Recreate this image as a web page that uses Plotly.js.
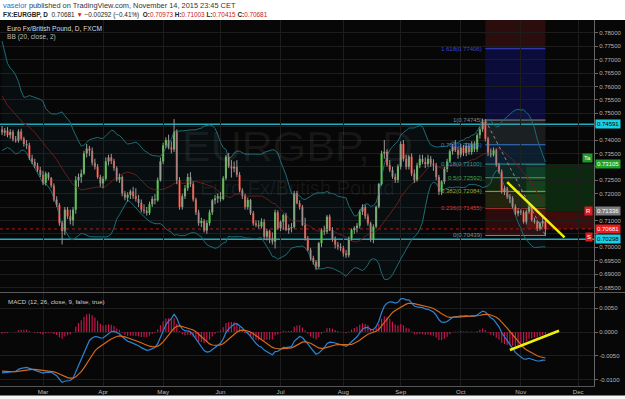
<!DOCTYPE html>
<html><head><meta charset="utf-8">
<script src="https://cdn.plot.ly/plotly-3.0.1.min.js"></script>
<style>html,body{margin:0;padding:0;background:#fff;overflow:hidden}#chart{width:625px;height:399px}</style>
</head><body><div id="chart"></div>
<script>
// ---- data (prices in pips, 1 pip = 0.0001) ----
const PIP = 0.0001;
const firstBarDate = '2015-02-09';
const openPips = [
7440,7428,7435,7418,7430,7402,7398,7432,7405,7385,7380,7332,7318,7305,7288,
7270,7240,7275,7258,7230,7178,7158,7090,7060,7140,
7115,7100,7140,7250,7262,7275,7350,7368,7360,7315,
7300,7262,7238,7255,7320,7335,7322,7295,7252,7262,
7200,7185,7195,7208,7190,7180,7165,7140,7135,7128,
7160,7180,7175,7250,7320,7380,7400,7372,7365,7430,
7250,7150,7190,7220,7262,7235,7178,7130,7090,7098,
7062,7090,7130,7175,7182,7190,7180,7257,7338,7301,
7294,7300,7270,7212,7192,7150,7176,7127,7089,7083,
7078,7095,7039,7060,7033,7021,7130,7071,7095,7120,
7064,7071,7075,7201,7164,7151,7083,7033,6990,6959,
6945,6927,7015,7064,7058,7114,7064,7027,7010,7002,
6996,6977,6970,7033,7064,7071,7080,7133,7150,7115,
7089,7027,7077,7151,7235,7350,7356,7307,7288,7263,
7251,7301,7385,7330,7300,7338,7275,7250,7305,7330,
7318,7310,7330,7312,7305,7262,7207,7245,7292,7320,
7358,7375,7362,7345,7372,7352,7378,7355,7385,7365,
7418,7440,7468,7405,7350,7345,7362,7307,7282,7207,
7219,7189,7182,7151,7126,7135,7130,7095,7133,7151,
7101,7095,7070,7089,7097.3];
const highPips = [
7452,7445,7448,7440,7438,7415,7440,7442,7412,7400,7390,7345,7330,7315,7300,
7285,7282,7280,7262,7238,7190,7165,7098,7150,7150,
7140,7150,7265,7275,7290,7360,7385,7378,7372,7330,
7310,7270,7265,7335,7345,7348,7330,7302,7275,7268,
7210,7205,7215,7225,7220,7195,7178,7160,7150,7170,
7190,7198,7260,7335,7390,7410,7420,7395,7478,7440,
7262,7200,7232,7275,7280,7245,7185,7140,7110,7105,
7100,7140,7180,7195,7200,7205,7265,7345,7352,7325,
7320,7325,7280,7220,7200,7185,7180,7135,7100,7100,
7108,7105,7068,7065,7055,7140,7138,7100,7125,7128,
7085,7090,7210,7210,7175,7158,7110,7042,6998,6968,
6952,7020,7070,7080,7120,7122,7075,7040,7020,7015,
7005,6990,7040,7070,7078,7090,7140,7160,7158,7125,
7095,7085,7155,7240,7360,7400,7365,7325,7300,7275,
7310,7395,7400,7345,7345,7350,7290,7315,7345,7345,
7335,7345,7340,7328,7315,7270,7250,7300,7330,7365,
7385,7400,7375,7385,7382,7390,7388,7395,7395,7425,
7448,7480,7478,7412,7368,7372,7368,7315,7290,7228,
7225,7198,7190,7160,7145,7142,7138,7140,7162,7158,
7110,7102,7095,7112,7100.3];
const lowPips = [
7418,7415,7410,7405,7395,7390,7390,7398,7375,7366,7325,7310,7295,7280,7262,
7232,7230,7250,7222,7170,7150,7080,7010,7045,7105,
7085,7080,7125,7225,7240,7270,7335,7340,7305,7290,
7255,7225,7220,7248,7305,7310,7285,7245,7240,7190,
7175,7170,7180,7180,7170,7150,7130,7125,7118,7120,
7150,7160,7170,7245,7310,7370,7365,7350,7355,7235,
7140,7140,7180,7210,7225,7170,7120,7080,7075,7055,
7050,7080,7120,7160,7165,7170,7175,7250,7295,7260,
7280,7262,7205,7180,7140,7140,7120,7080,7075,7070,
7070,7030,7025,7015,7010,6995,7065,7060,7065,7060,
7050,7055,7070,7160,7140,7078,7025,6985,6950,6935,
6915,6920,7000,7045,7050,7060,7020,6995,6990,6985,
6965,6960,6962,7025,7050,7055,7070,7120,7105,7080,
7020,7015,7070,7145,7230,7330,7300,7280,7255,7240,
7240,7290,7320,7290,7290,7265,7240,7245,7295,7310,
7295,7300,7300,7285,7250,7195,7195,7235,7280,7315,
7345,7355,7330,7335,7340,7340,7345,7345,7355,7355,
7405,7430,7395,7340,7335,7338,7300,7275,7200,7195,
7180,7165,7145,7120,7115,7120,7088,7085,7125,7095,
7088,7060,7062,7075,7041.5];
const closePips = [
7428,7435,7418,7430,7402,7398,7432,7405,7385,7380,7332,7318,7305,7288,7270,
7240,7275,7258,7230,7178,7158,7090,7060,7140,7115,
7100,7140,7250,7262,7275,7350,7368,7360,7315,7300,
7262,7238,7255,7320,7335,7322,7295,7252,7262,7200,
7185,7195,7208,7190,7180,7165,7140,7135,7128,7160,
7180,7175,7250,7320,7380,7400,7372,7365,7430,7250,
7150,7190,7220,7262,7235,7178,7130,7090,7098,7062,
7090,7130,7175,7182,7190,7180,7257,7338,7301,7294,
7300,7270,7212,7192,7150,7176,7127,7089,7083,7078,
7095,7039,7060,7033,7021,7130,7071,7095,7120,7064,
7071,7075,7201,7164,7151,7083,7033,6990,6959,6945,
6927,7015,7064,7058,7114,7064,7027,7010,7002,6996,
6977,6970,7033,7064,7071,7080,7133,7150,7115,7089,
7027,7077,7151,7235,7350,7356,7307,7288,7263,7251,
7301,7385,7330,7300,7338,7275,7250,7305,7330,7318,
7310,7330,7312,7305,7262,7207,7245,7292,7320,7358,
7375,7362,7345,7372,7352,7378,7355,7385,7365,7418,
7440,7468,7405,7350,7345,7362,7307,7282,7207,7219,
7189,7182,7151,7126,7135,7130,7095,7133,7151,7101,
7095,7070,7089,7097.3,7068.1];
// closes before the visible window (Dec 2014 - Feb 6 2015), only used to warm up BB / MACD
const warmupClosePips = [
7940,7870,7860,7900,7915,7900,7920,7915,7910,7900,7900,7905,7880,7860,7860,7850,7855,7855,7860,7845,7835,7830,7760,
7765,7805,7840,7820,7840,7790,7800,7770,7800,7770,7660,7620,7630,7640,7660,7605,7470,7480,7530,7520,7520,7490,
7520,7560,7480,7470,7445];
const monthNames = ['Jan','Feb','Mar','Apr','May','Jun','Jul','Aug','Sep','Oct','Nov','Dec'];
const hLevels = [0.74591, 0.70298];
const fibLevels = [0, 0.236, 0.382, 0.5, 0.618, 0.786, 1, 1.618, 2.618];
const fibLow = 0.70439, fibHigh = 0.74745;
const fibDates = ['2015-10-14', '2015-11-13'];
const posDates = ['2015-11-04', '2015-12-31'];
const posEntry = 0.71336, posTarget = 0.73105;
const trendDates = ['2015-10-26', '2015-11-24'];
const trendPrices = [0.72429, 0.70369];
const macdTrendDates = ['2015-10-27', '2015-11-20'];
const macdTrendValues = [-0.00378, 0.00027];

// ---- styles ----
const UP = '#4fc63a', DN = '#ec3a2e', WICK = '#9a9a9a';
const fibColors = ['#8a8a8a','#d23c3c','#9aa83a','#43a843','#2f9c9c','#3c78d2','#8a8a8a','#3c46d2','#b03030'];
const fibFills = [null,'rgba(150,25,25,0.25)','rgba(120,125,30,0.25)','rgba(50,140,40,0.22)','rgba(30,120,110,0.24)','rgba(30,80,150,0.24)','rgba(120,120,120,0.18)','rgba(25,25,170,0.32)','rgba(140,30,30,0.28)'];

// ---- calendar (weekday bars) ----
function weekdays(start, n) {
  const out = []; const d = new Date(start + 'T00:00:00Z');
  while (out.length < n) { const w = d.getUTCDay(); if (w !== 0 && w !== 6) out.push(d.toISOString().slice(0, 10)); d.setUTCDate(d.getUTCDate() + 1); }
  return out;
}
const calendar = weekdays(firstBarDate, 260);
const N = closePips.length;
const X = Array.from({length: N}, (_, k) => k);
const idx = d => calendar.indexOf(d);
const tickVals = [], tickText = [];
for (let k = 1; k < calendar.length; k++) {
  if (calendar[k].slice(5, 7) !== calendar[k - 1].slice(5, 7)) { tickVals.push(k); tickText.push(monthNames[+calendar[k].slice(5, 7) - 1]); }
}

const O = openPips.map(v => v * PIP), H = highPips.map(v => v * PIP), L = lowPips.map(v => v * PIP), C = closePips.map(v => v * PIP);

// ---- indicators ----
const all = warmupClosePips.map(v => v * PIP).concat(C);
const W = warmupClosePips.length;
const bbU = [], bbL = [], bbM = [];
for (let k = 0; k < N; k++) {
  const j = W + k; const win = all.slice(j - 19, j + 1);
  const m = win.reduce((a, b) => a + b, 0) / 20;
  const sd = Math.sqrt(win.reduce((a, b) => a + (b - m) * (b - m), 0) / 20);
  bbM.push(m); bbU.push(m + 2 * sd); bbL.push(m - 2 * sd);
}
function ema(arr, n) { const a = 2 / (n + 1); const out = []; let e = arr[0]; arr.forEach((v, i) => { e = i === 0 ? v : a * v + (1 - a) * e; out.push(e); }); return out; }
const e12 = ema(all, 12), e26 = ema(all, 26);
const macdAll = e12.map((v, i) => v - e26[i]);
const sigAll = ema(macdAll, 9);
const macd = macdAll.slice(W), sig = sigAll.slice(W), hist = macd.map((v, i) => v - sig[i]);

// ---- traces ----
const wx = [], wy = [];
for (let k = 0; k < N; k++) { wx.push(k, k, null); wy.push(L[k], H[k], null); }
const bodyBase = O.map((o, k) => Math.min(o, C[k]));
const bodyH = O.map((o, k) => Math.max(Math.abs(C[k] - o), 0.00008));
const bodyCol = O.map((o, k) => C[k] >= o ? UP : DN);

const traces = [
  {x: X, y: bbL, type: 'scatter', mode: 'lines', line: {color: '#1f6b74', width: 1}, hoverinfo: 'skip'},
  {x: X, y: bbU, type: 'scatter', mode: 'lines', line: {color: '#1f6b74', width: 1}, fill: 'tonexty', fillcolor: 'rgba(35,120,130,0.07)', hoverinfo: 'skip'},
  {x: X, y: bbM, type: 'scatter', mode: 'lines', line: {color: '#6a1c1c', width: 1}, hoverinfo: 'skip'},
  {x: wx, y: wy, type: 'scatter', mode: 'lines', line: {color: WICK, width: 1}, hoverinfo: 'skip'},
  {x: X, y: bodyH, base: bodyBase, type: 'bar', width: 0.78, marker: {color: bodyCol, line: {width: 0}}, hoverinfo: 'skip'},
  {x: fibDates.map(idx), y: [fibHigh, fibLow], type: 'scatter', mode: 'lines', line: {color: '#8a8a8a', width: 1, dash: 'dot'}, hoverinfo: 'skip'},
  {x: trendDates.map(idx), y: trendPrices, type: 'scatter', mode: 'lines', line: {color: '#f2ee0c', width: 2.5}, hoverinfo: 'skip'},
  {x: X, y: hist, type: 'bar', width: 0.42, marker: {color: '#c8174f', line: {width: 0}}, yaxis: 'y2', hoverinfo: 'skip'},
  {x: X, y: macd, type: 'scatter', mode: 'lines', line: {color: '#2c84d6', width: 1.2}, yaxis: 'y2', hoverinfo: 'skip'},
  {x: X, y: sig, type: 'scatter', mode: 'lines', line: {color: '#d6691c', width: 1.2}, yaxis: 'y2', hoverinfo: 'skip'},
  {x: macdTrendDates.map(idx), y: macdTrendValues, type: 'scatter', mode: 'lines', line: {color: '#f2ee0c', width: 2.5}, yaxis: 'y2', hoverinfo: 'skip'}
];

// ---- geometry helpers ----
const TOP = 20, BOT = 13, HEIGHT = 399;
const plotH = HEIGHT - TOP - BOT;
const paperY = px => (HEIGHT - BOT - px) / plotH;

// ---- shapes ----
const shapes = [];
const fx0 = idx(fibDates[0]), fx1 = idx(fibDates[1]);
const fibPrice = l => fibLow + l * (fibHigh - fibLow);
fibLevels.forEach((l, n) => {
  if (n > 0) shapes.push({type: 'rect', xref: 'x', yref: 'y', x0: fx0, x1: fx1, y0: fibPrice(fibLevels[n - 1]), y1: fibPrice(l), fillcolor: fibFills[n], line: {width: 0}, layer: 'below'});
});
const px0 = idx(posDates[0]), px1 = idx(posDates[1]);
const lastClose = C[N - 1];
shapes.push({type: 'rect', xref: 'x', yref: 'y', x0: px0, x1: px1, y0: posEntry, y1: posTarget, fillcolor: 'rgba(25,130,35,0.28)', line: {width: 0}, layer: 'below'});
shapes.push({type: 'rect', xref: 'x', yref: 'y', x0: px0, x1: px1, y0: lastClose, y1: posEntry, fillcolor: 'rgba(170,20,20,0.35)', line: {width: 0}, layer: 'below'});
fibLevels.forEach((l, n) => {
  shapes.push({type: 'line', xref: 'x', yref: 'y', x0: fx0, x1: fx1, y0: fibPrice(l), y1: fibPrice(l), line: {color: fibColors[n], width: 1}, layer: 'below'});
});
hLevels.forEach(v => shapes.push({type: 'line', xref: 'paper', yref: 'y', x0: 0, x1: 1, y0: v, y1: v, line: {color: '#22aebe', width: 1.5}, layer: 'below'}));
shapes.push({type: 'line', xref: 'paper', yref: 'y', x0: 0, x1: 1, y0: lastClose, y1: lastClose, line: {color: '#b01a1a', width: 1, dash: 'dot'}, layer: 'below'});
// header / footer / pane separator
shapes.push({type: 'rect', xref: 'paper', yref: 'paper', x0: -0.01, x1: 1.1, y0: paperY(TOP), y1: paperY(-2), fillcolor: '#ffffff', line: {width: 0}});
shapes.push({type: 'rect', xref: 'paper', yref: 'paper', x0: -0.01, x1: 1.1, y0: paperY(401), y1: paperY(395.5), fillcolor: '#f4f6f8', line: {width: 0}});
shapes.push({type: 'line', xref: 'paper', yref: 'paper', x0: 0, x1: 1.1, y0: paperY(292.5), y1: paperY(292.5), line: {color: '#5a5a5a', width: 1}});

// ---- annotations ----
const ann = [];
const F = 'Liberation Sans, Arial, sans-serif';
ann.push({xref: 'paper', yref: 'paper', x: 0, y: paperY(5.5), xanchor: 'left', yanchor: 'middle', xshift: 1, showarrow: false,
  text: "<span style='color:#2b6fc2'>vaselor</span> published on TradingView.com, November 14, 2015 23:45 CET", font: {family: F, size: 7.4, color: '#333'}});
ann.push({xref: 'paper', yref: 'paper', x: 0, y: paperY(14.5), xanchor: 'left', yanchor: 'middle', xshift: 1, showarrow: false,
  text: "<b>FX:EURGBP, D</b>  0.70681 <span style='color:#d01818'>▼</span> −0.00292 (−0.41%)  <b>O:</b><span style='color:#c81818'>0.70973</span> <b>H:</b><span style='color:#c81818'>0.71003</span> <b>L:</b><span style='color:#c81818'>0.70415</span> <b>C:</b><span style='color:#c81818'>0.70681</span>",
  font: {family: F, size: 6.4, color: '#222'}});
ann.push({xref: 'paper', yref: 'paper', x: 0, y: paperY(28.5), xanchor: 'left', yanchor: 'middle', xshift: 5, showarrow: false, text: 'Euro Fx/British Pound, D, FXCM', font: {family: F, size: 6.6, color: '#dddddd'}});
ann.push({xref: 'paper', yref: 'paper', x: 0, y: paperY(37), xanchor: 'left', yanchor: 'middle', xshift: 5, showarrow: false, text: 'BB (20, close, 2)', font: {family: F, size: 6.6, color: '#bbbbbb'}});
ann.push({xref: 'paper', yref: 'paper', x: 0, y: paperY(301), xanchor: 'left', yanchor: 'middle', xshift: 6, showarrow: false, text: 'MACD (12, 26, close, 9, false, true)', font: {family: F, size: 6.2, color: '#cccccc'}});
// watermark
ann.push({xref: 'paper', yref: 'paper', x: 0.5, y: paperY(146), xanchor: 'center', yanchor: 'middle', showarrow: false, text: 'EURGBP, D', font: {family: F, size: 43, color: 'rgba(255,255,255,0.065)'}});
ann.push({xref: 'paper', yref: 'paper', x: 0.5, y: paperY(188), xanchor: 'center', yanchor: 'middle', showarrow: false, text: 'Euro Fx/British Pound', font: {family: F, size: 20, color: 'rgba(255,255,255,0.065)'}});
// fib labels
fibLevels.forEach((l, n) => {
  const p = fibPrice(l);
  if (p < 0.784) ann.push({xref: 'x', yref: 'y', x: fx0, y: p, xanchor: 'right', yanchor: 'middle', xshift: -1, showarrow: false,
    text: l + '(' + p.toFixed(5) + ')', font: {family: F, size: 6, color: fibColors[n]}});
});
// position flags
ann.push({xref: 'paper', yref: 'y', x: 1, y: posTarget, xanchor: 'right', yanchor: 'bottom', xshift: -1, yshift: 1, showarrow: false, text: 'Ta', bgcolor: '#1f9a2a', font: {family: F, size: 6, color: '#fff'}, borderpad: 1});
ann.push({xref: 'paper', yref: 'y', x: 1, y: posEntry, xanchor: 'right', yanchor: 'middle', xshift: -1, showarrow: false, text: 'R', bgcolor: '#d81e1e', font: {family: F, size: 6, color: '#fff'}, borderpad: 1});
ann.push({xref: 'paper', yref: 'y', x: 1, y: hLevels[1], xanchor: 'right', yanchor: 'middle', xshift: -1, yshift: 2, showarrow: false, text: 'S', bgcolor: '#d81e1e', font: {family: F, size: 6, color: '#fff'}, borderpad: 1});
// price axis tags
const tags = [[hLevels[0], '#1ad0e4', '#000'], [posTarget, '#1fa32a', '#fff'], [posEntry, '#7d7d7d', '#fff'], [lastClose, '#e61e1e', '#fff'], [hLevels[1], '#1ad0e4', '#000']];
tags.forEach(t => ann.push({xref: 'paper', yref: 'y', x: 1, y: t[0], xanchor: 'left', yanchor: 'middle', xshift: 1, showarrow: false,
  text: t[0].toFixed(5), bgcolor: t[1], font: {family: F, size: 6, color: t[2]}, borderpad: 1}));

// ---- axes ----
const priceTicks = []; for (let v = 685; v <= 780; v += 5) priceTicks.push(v / 1000);
// labels hidden behind the coloured price tags, as on the original axis
const priceTickText = priceTicks.map(v => tags.some(t => Math.abs(t[0] - v) < 0.0026) ? '' : v.toFixed(5));
const macdTicks = [-0.01, -0.005, 0, 0.005];
const layout = {
  width: 625, height: 399,
  margin: {l: 0, r: 31, t: TOP, b: BOT, pad: 0},
  paper_bgcolor: '#070707', plot_bgcolor: '#070707',
  showlegend: false, barmode: 'overlay', hovermode: false,
  font: {family: F, size: 6, color: '#b5b5b5'},
  xaxis: {range: [-0.75, 216.8], tickvals: tickVals, ticktext: tickText, showgrid: true, gridcolor: '#1d1d1d', zeroline: false,
    showline: true, linecolor: '#555', ticks: '', tickfont: {family: F, size: 6.2, color: '#bbbbbb'}, anchor: 'y2', fixedrange: true},
  yaxis: {domain: [0.2568, 1], range: [0.68328, 0.78478], side: 'right', tickvals: priceTicks, ticktext: priceTickText,
    showgrid: true, gridcolor: '#1d1d1d', zeroline: false, showline: true, linecolor: '#666', ticks: 'outside', ticklen: 3, tickcolor: '#666',
    tickfont: {family: F, size: 6, color: '#b5b5b5'}, fixedrange: true},
  yaxis2: {domain: [0, 0.254], range: [-0.011345, 0.008193], side: 'right', tickvals: macdTicks, ticktext: macdTicks.map(v => v.toFixed(4)),
    showgrid: true, gridcolor: '#1d1d1d', zeroline: false, showline: true, linecolor: '#666', ticks: 'outside', ticklen: 3, tickcolor: '#666',
    tickfont: {family: F, size: 6, color: '#b5b5b5'}, fixedrange: true},
  shapes: shapes, annotations: ann
};
Plotly.newPlot('chart', traces, layout, {staticPlot: true, displayModeBar: false});
</script>
</body></html>
